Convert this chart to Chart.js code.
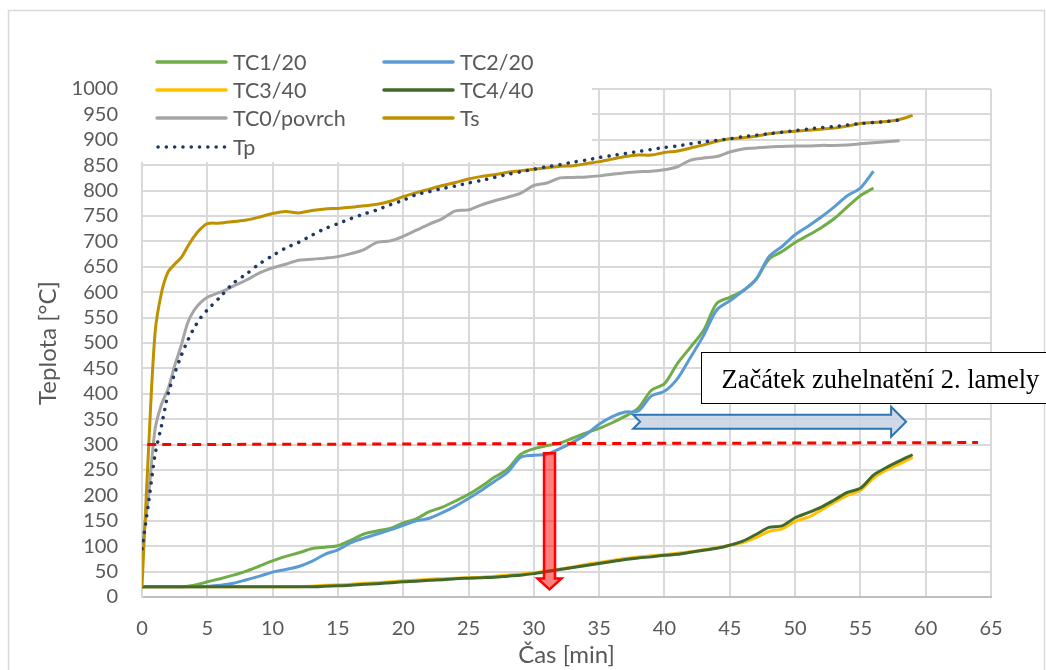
<!DOCTYPE html>
<html>
<head>
<meta charset="utf-8">
<script src="https://cdn.jsdelivr.net/npm/chart.js@4.4.1/dist/chart.umd.min.js"></script>
<style>
  body { margin: 0; background: #fff; }
  canvas { display: block; }
</style>
</head>
<body>
<canvas id="graf" width="1046" height="670"></canvas>
<script>
// time [min]
var cas = [0, 0.5, 1, 1.5, 2, 2.5, 3, 3.5, 4, 4.5, 5,
  6, 7, 8, 9, 10, 11, 12, 13, 14, 15, 16, 17, 18, 19, 20,
  21, 22, 23, 24, 25, 26, 27, 28, 29, 30, 31, 32, 33, 34, 35,
  36, 37, 38, 39, 40, 41, 42, 43, 44, 45, 46, 47, 48, 49, 50,
  51, 52, 53, 54, 55, 56, 57, 58, 59];

var tc1 = [20, 20, 20, 20, 20, 20, 20, 21, 23, 26, 30,
  36, 43, 51, 61, 71, 80, 87, 95, 98, 101, 112, 124, 130, 135, 146,
  154, 168, 177, 189, 202, 218, 236, 252, 281, 292, 298, 303, 313, 323, 332,
  343, 356, 372, 407, 420, 460, 492, 525, 578, 590, 603, 625, 665, 680, 698,
  712, 727, 745, 768, 790, 805, null, null, null];

var tc2 = [20, 20, 20, 20, 20, 20, 20, 20, 20, 20, 21,
  23, 27, 34, 41, 49, 54, 60, 70, 84, 93, 107, 116, 124, 132, 141,
  150, 155, 166, 179, 194, 210, 228, 246, 275, 279, 281, 292, 305, 320, 340,
  355, 364, 366, 396, 405, 430, 472, 515, 565, 583, 602, 625, 670, 690, 713,
  730, 748, 768, 790, 805, 838, null, null, null];

var tc3 = [20, 20, 20, 20, 20, 20, 20, 20, 20, 20, 20,
  20, 20, 20, 20, 20, 20, 20, 21, 23, 24, 25, 27, 28, 30, 32,
  33, 35, 36, 37, 38, 39, 41, 43, 45, 48, 51, 55, 59, 64, 68,
  72, 76, 79, 81, 83, 86, 89, 93, 97, 102, 107, 117, 129, 134, 149,
  157, 171, 186, 200, 210, 234, 250, 262, 275];

var tc4 = [20, 20, 20, 20, 20, 20, 20, 20, 20, 20, 20,
  20, 20, 20, 20, 20, 20, 20, 20, 21, 22, 23, 25, 26, 28, 30,
  31, 33, 34, 36, 37, 38, 39, 41, 43, 46, 50, 54, 58, 62, 66,
  70, 74, 77, 79, 82, 84, 88, 92, 96, 102, 110, 123, 137, 140, 156,
  166, 177, 191, 206, 214, 240, 255, 268, 280];

var tc0 = [95, 200, 330, 380, 410, 455, 495, 540, 565, 580, 590,
  600, 612, 624, 638, 648, 655, 663, 665, 667, 670, 676, 684, 698, 701, 710,
  722, 734, 745, 760, 762, 772, 780, 787, 795, 810, 815, 825, 826, 827, 829,
  832, 835, 837, 838, 841, 847, 860, 864, 867, 876, 882, 884, 886, 887, 888,
  888, 889, 889, 890, 892, 894, 896, 898, null];

var ts = [20, 290, 520, 600, 640, 655, 668, 690, 710, 725, 735,
  736, 739, 742, 748, 755, 759, 756, 761, 764, 765, 767, 770, 773, 779, 788,
  796, 803, 810, 816, 823, 828, 831, 836, 839, 842, 845, 848, 849, 853, 857,
  862, 867, 870, 870, 875, 878, 884, 890, 897, 902, 904, 907, 912, 915, 917,
  919, 921, 923, 927, 932, 934, 936, 940, 948];

var tp = [95, 185, 280, 338, 400, 440, 475, 505, 530, 550, 565,
  591, 618, 636, 656, 672, 687, 698, 712, 725, 735, 745, 754, 762, 772, 781,
  792, 798, 804, 809, 815, 820, 826, 832, 837, 842, 847, 851, 856, 860, 865,
  869, 873, 877, 881, 885, 888, 892, 896, 899, 902, 906, 909, 912, 915, 918,
  921, 924, 926, 929, 932, 934, 936, 939, null];

var nazvy = ["TC1/20", "TC2/20", "TC3/40", "TC4/40", "TC0/povrch", "Ts", "Tp"];
var barvy = ["#70ad47", "#5b9bd5", "#ffc000", "#43682b", "#a5a5a5", "#bf9000", "#1f3864"];
var rady = [tc1, tc2, tc3, tc4, tc0, ts, tp];

var textPopisek = "Začátek zuhelnatění 2. lamely";

var sedaText = "#595959";
Chart.defaults.font.family = "Lato, 'Open Sans', sans-serif";
Chart.defaults.color = sedaText;

function body(hodnoty) {
  return cas.map(function (t, i) { return { x: t, y: hodnoty[i] }; });
}

var datasets = rady.map(function (r, i) {
  var ds = {
    label: nazvy[i],
    data: body(r),
    borderColor: barvy[i],
    backgroundColor: barvy[i],
    borderWidth: 3,
    pointRadius: 0,
    tension: 0.3,
    fill: false,
    order: rady.length - i
  };
  if (nazvy[i] == "Tp") {
    ds.borderDash = [0.1, 8.2];
    ds.borderCapStyle = "round";
    ds.borderWidth = 3.5;
  }
  return ds;
});

// draws the frame, the legend box and the annotations
var kresleni = {
  id: "kresleni",
  beforeDraw: function (chart) {
    var ctx = chart.ctx;
    ctx.save();
    ctx.fillStyle = "#fff";
    ctx.fillRect(0, 0, chart.width, chart.height);
    ctx.strokeStyle = "#d9d9d9";
    ctx.lineWidth = 1.5;
    ctx.strokeRect(8.5, 10.5, 1036, 700);
    ctx.restore();
  },
  beforeDatasetsDraw: function (chart) {
    var ctx = chart.ctx;
    ctx.save();
    ctx.fillStyle = "#fff";
    ctx.fillRect(125, 30, 467, 132);
    ctx.font = "21.5px Lato, 'Open Sans', sans-serif";
    ctx.textBaseline = "middle";
    ctx.fillStyle = sedaText;
    var sloupce = [157, 384];
    var radky = [62, 90, 118, 147];
    for (var i = 0; i < nazvy.length; i++) {
      var x = sloupce[i % 2];
      var y = radky[Math.floor(i / 2)];
      ctx.beginPath();
      ctx.strokeStyle = barvy[i];
      ctx.lineWidth = 3.5;
      ctx.lineCap = "round";
      if (nazvy[i] == "Tp") {
        ctx.setLineDash([0.1, 8.2]);
        ctx.moveTo(x + 1, y);
      } else {
        ctx.setLineDash([]);
        ctx.moveTo(x, y);
      }
      ctx.lineTo(x + 69, y);
      ctx.stroke();
      ctx.setLineDash([]);
      ctx.fillText(nazvy[i], x + 76, y + 1);
    }
    ctx.restore();
  },
  afterDatasetsDraw: function (chart) {
    var ctx = chart.ctx;
    var sx = chart.scales.x;
    var sy = chart.scales.y;
    ctx.save();

    // red dashed level at 300 °C
    ctx.beginPath();
    ctx.strokeStyle = "#ff0000";
    ctx.lineWidth = 3;
    ctx.setLineDash([9, 6]);
    ctx.moveTo(sx.getPixelForValue(0.4), sy.getPixelForValue(300));
    ctx.lineTo(sx.getPixelForValue(64), sy.getPixelForValue(304));
    ctx.stroke();
    ctx.setLineDash([]);

    // red arrow down
    var x = sx.getPixelForValue(31.2);
    var yTop = sy.getPixelForValue(283);
    var yTip = sy.getPixelForValue(15);
    var sw = 5.5, hw = 12, hl = 11;
    ctx.beginPath();
    ctx.moveTo(x - sw, yTop);
    ctx.lineTo(x + sw, yTop);
    ctx.lineTo(x + sw, yTip - hl);
    ctx.lineTo(x + hw, yTip - hl);
    ctx.lineTo(x, yTip);
    ctx.lineTo(x - hw, yTip - hl);
    ctx.lineTo(x - sw, yTip - hl);
    ctx.closePath();
    ctx.fillStyle = "rgba(255,0,0,0.5)";
    ctx.fill();
    ctx.strokeStyle = "#ff0000";
    ctx.lineWidth = 2.5;
    ctx.lineJoin = "miter";
    ctx.stroke();

    // blue notched arrow right
    var x0 = sx.getPixelForValue(37.6);
    var x1 = sx.getPixelForValue(58.5);
    var yc = sy.getPixelForValue(345);
    var sh = 7, hh = 15, hL = 15, notch = 7;
    ctx.beginPath();
    ctx.moveTo(x0, yc - sh);
    ctx.lineTo(x1 - hL, yc - sh);
    ctx.lineTo(x1 - hL, yc - hh);
    ctx.lineTo(x1, yc);
    ctx.lineTo(x1 - hL, yc + hh);
    ctx.lineTo(x1 - hL, yc + sh);
    ctx.lineTo(x0, yc + sh);
    ctx.lineTo(x0 + notch, yc);
    ctx.closePath();
    ctx.fillStyle = "rgba(200,210,228,0.85)";
    ctx.fill();
    ctx.strokeStyle = "#2e75b6";
    ctx.lineWidth = 2;
    ctx.stroke();

    // text box
    var bx = Math.round(sx.getPixelForValue(42.8)) + 0.5;
    var by = Math.round(sy.getPixelForValue(482)) + 0.5;
    var bb = Math.round(sy.getPixelForValue(382)) + 0.5;
    ctx.fillStyle = "#fff";
    ctx.fillRect(bx, by, chart.width, bb - by);
    ctx.strokeStyle = "#000";
    ctx.lineWidth = 1;
    ctx.strokeRect(bx, by, chart.width, bb - by);
    ctx.fillStyle = "#000";
    ctx.font = "26.5px 'Liberation Serif', 'Times New Roman', serif";
    ctx.textBaseline = "alphabetic";
    ctx.fillText(textPopisek, bx + 20, bb - 16);

    ctx.restore();
  }
};

new Chart(document.getElementById("graf"), {
  type: "line",
  data: { datasets: datasets },
  options: {
    responsive: false,
    animation: false,
    layout: { padding: { top: 89, right: 55, left: 0, bottom: 0 } },
    plugins: {
      legend: { display: false },
      tooltip: { enabled: false }
    },
    scales: {
      x: {
        type: "linear",
        min: 0,
        max: 65,
        ticks: {
          stepSize: 5, padding: 20, color: sedaText, font: { size: 20 },
          autoSkip: false, maxRotation: 0, maxTicksLimit: 40,
          callback: function (v) { return String(v); }
        },
        grid: { color: "#d9d9d9", lineWidth: 2, drawTicks: false },
        border: { color: "#bfbfbf", width: 2 },
        title: {
          display: true,
          text: "Čas [min]",
          color: sedaText,
          font: { size: 24 },
          padding: { top: 0, bottom: 0 }
        },
        afterFit: function (s) { s.height = 73; }
      },
      y: {
        min: 0,
        max: 1000,
        ticks: {
          stepSize: 50, padding: 24, color: sedaText, font: { size: 20 },
          autoSkip: false, maxTicksLimit: 40,
          callback: function (v) { return String(v); }
        },
        grid: { color: "#d9d9d9", lineWidth: 2, drawTicks: false },
        border: { color: "#d9d9d9", width: 2 },
        title: {
          display: true,
          text: "Teplota [°C]",
          color: sedaText,
          font: { size: 24 },
          padding: { top: 34, bottom: 0 }
        },
        afterFit: function (s) { s.width = 142; }
      }
    }
  },
  plugins: [kresleni]
});
</script>
</body>
</html>
